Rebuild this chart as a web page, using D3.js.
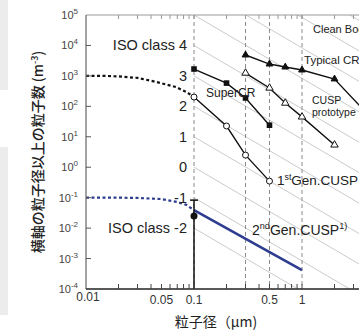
<!DOCTYPE html>
<html><head><meta charset="utf-8">
<script src="https://cdn.jsdelivr.net/npm/d3@7"></script>
<style>
body{margin:0;background:#fff;}
svg{display:block;font-family:"Liberation Sans",Arial,sans-serif;}
</style></head>
<body>
<svg id="c" width="359" height="330"></svg>
<script>
// ---- data ----
const yTickExps = [5,4,3,2,1,0,-1,-2,-3,-4];
const xTickLabels = ["0.01","0.05","0.1","0.5","1"];
const xTickValues = [0.01,0.05,0.1,0.5,1];
const refLines = [0.1,0.3,0.5,1];
const isoClasses = [-2,-1,0,1,2,3,4,5,6,7,8];
const isoLabelClasses = [4,3,2,1,0,-1,-2];

const gen1Sizes = [0.1,0.2,0.3,0.5];
const gen1Values = [202,22.6,2.5,0.35];
const superSizes = [0.1,0.2,0.3,0.5];
const superValues = [1680,580,188,24];
const protoSizes = [0.3,0.5,0.7,1,2];
const protoValues = [1240,400,128,45,5.4];
const typSizes = [0.3,0.5,0.7,1,2,5];
const typValues = [4850,2450,1950,1560,790,25];
const dotBlackSizes = [0.01,0.015,0.02,0.03,0.045,0.068,0.085,0.1];
const dotBlackValues = [1000,1000,960,860,630,430,295,202];
const dotBlueSizes = [0.01,0.02,0.03,0.05,0.07,0.085,0.1];
const dotBlueValues = [0.1,0.1,0.098,0.09,0.072,0.058,0.039];
const gen2Sizes = [0.1,1];
const gen2Values = [0.039,0.00042];
const gen2Point = {size:0.1, value:0.025, upper:0.083, lower:0.0001};

// ---- layout ----
const svg = d3.select("#c");
const x = d3.scaleLog().domain([0.01,10]).range([86,410]);
const y = d3.scaleLog().domain([1e-4,1e5]).range([289,15]);
const blue = "#2e3d8f";

// left scan strip
svg.append("rect").attr("x",0).attr("y",0).attr("width",8).attr("height",90).attr("fill","#ececec");
svg.append("rect").attr("x",0).attr("y",147).attr("width",8).attr("height",168).attr("fill","#ececec");

svg.append("defs").append("clipPath").attr("id","pc").append("rect")
  .attr("x",86).attr("y",15).attr("width",300).attr("height",274);
const plot = svg.append("g").attr("clip-path","url(#pc)");

// ISO class lines (gray)
const line = d3.line().x(d=>x(d[0])).y(d=>y(d[1]));
isoClasses.forEach(n=>{
  const pts = [0.1,0.2,0.5,1,2,5,10].map(d=>[d, Math.pow(10,n)*Math.pow(0.1/d,2.08)]);
  plot.append("path").attr("d",line(pts)).attr("fill","none").attr("stroke","#bcbcbc").attr("stroke-width",0.8);
});

// vertical dashed reference lines
refLines.forEach(v=>{
  plot.append("line").attr("x1",x(v)).attr("x2",x(v)).attr("y1",15).attr("y2",289)
    .attr("stroke","#8a8a8a").attr("stroke-width",1).attr("stroke-dasharray","4,3");
});

// axes
const ticksMinor = [];
[0.01,0.1,1].forEach(dec=>{for(let k=1;k<=9;k++) ticksMinor.push(dec*k);});
ticksMinor.push(10);
svg.append("line").attr("x1",86).attr("x2",359).attr("y1",15).attr("y2",15).attr("stroke","#999").attr("stroke-width",1.2);
svg.append("line").attr("x1",86).attr("x2",86).attr("y1",15).attr("y2",289).attr("stroke","#666").attr("stroke-width",1.2);
svg.append("line").attr("x1",86).attr("x2",359).attr("y1",289).attr("y2",289).attr("stroke","#222").attr("stroke-width",1.3);
ticksMinor.filter(v=>x(v)>87 && x(v)<359).forEach(v=>{
  svg.append("line").attr("x1",x(v)).attr("x2",x(v)).attr("y1",15).attr("y2",19).attr("stroke","#999");
  svg.append("line").attr("x1",x(v)).attr("x2",x(v)).attr("y1",289).attr("y2",284).attr("stroke","#444");
});
yTickExps.forEach(e=>{
  const yy = y(Math.pow(10,e));
  if(e>-4 && e<5) svg.append("line").attr("x1",86).attr("x2",91).attr("y1",yy).attr("y2",yy).attr("stroke","#555");
  const t = svg.append("text").attr("x",78).attr("y",yy+4).attr("text-anchor","end")
    .attr("font-size",11).attr("fill","#444");
  t.append("tspan").text("10");
  t.append("tspan").attr("font-size",8).attr("dy",-5).text(String(e));
});
xTickValues.forEach((v,i)=>{
  svg.append("text").attr("x",x(v)+(i==0?2:0)).attr("y",i==0?301:304).attr("text-anchor","middle")
    .attr("font-size",12).attr("fill","#333").text(xTickLabels[i]);
});

// dotted curves
plot.append("path").attr("d",line(dotBlackSizes.map((d,i)=>[d,dotBlackValues[i]])))
  .attr("fill","none").attr("stroke","#111").attr("stroke-width",2.2).attr("stroke-dasharray","3,2.5");
plot.append("path").attr("d",line(dotBlueSizes.map((d,i)=>[d,dotBlueValues[i]])))
  .attr("fill","none").attr("stroke",blue).attr("stroke-width",2.2).attr("stroke-dasharray","3,2.5");

// 2nd gen line
plot.append("path").attr("d",line(gen2Sizes.map((d,i)=>[d,gen2Values[i]])))
  .attr("fill","none").attr("stroke",blue).attr("stroke-width",2.6);
// error bar + point
plot.append("line").attr("x1",x(gen2Point.size)).attr("x2",x(gen2Point.size))
  .attr("y1",y(gen2Point.upper)).attr("y2",y(gen2Point.lower)).attr("stroke","#111").attr("stroke-width",1.5);
plot.append("line").attr("x1",x(gen2Point.size)-4).attr("x2",x(gen2Point.size)+4)
  .attr("y1",y(gen2Point.upper)).attr("y2",y(gen2Point.upper)).attr("stroke","#111").attr("stroke-width",1.5);
plot.append("circle").attr("cx",x(gen2Point.size)).attr("cy",y(gen2Point.value)).attr("r",3.5).attr("fill","#111");

// series
function series(sizes, values, marker){
  const pts = sizes.map((d,i)=>[d,values[i]]);
  plot.append("path").attr("d",line(pts)).attr("fill","none").attr("stroke","#111").attr("stroke-width",1.4);
  pts.forEach(p=>{
    const cx=x(p[0]), cy=y(p[1]);
    if(marker==="circle") plot.append("circle").attr("cx",cx).attr("cy",cy).attr("r",3).attr("fill","#fff").attr("stroke","#111").attr("stroke-width",1);
    else if(marker==="square") plot.append("rect").attr("x",cx-2.8).attr("y",cy-2.8).attr("width",5.6).attr("height",5.6).attr("fill","#111");
    else {
      const filled = marker==="tri";
      plot.append("path").attr("d",d3.symbol().type(d3.symbolTriangle).size(filled?20:24)())
        .attr("transform",`translate(${cx},${cy})`).attr("fill",filled?"#111":"#fff").attr("stroke","#111").attr("stroke-width",1);
    }
  });
}
series(gen1Sizes,gen1Values,"circle");
series(superSizes,superValues,"square");
series(protoSizes,protoValues,"otri");
series(typSizes,typValues,"tri");

// ISO class labels
isoLabelClasses.forEach(n=>{
  const label = (n===4||n===-2) ? "ISO class "+String(n) : String(n);
  svg.append("text").attr("x",187).attr("y",y(Math.pow(10,n))+5).attr("text-anchor","end")
    .attr("font-size",14.5).attr("fill","#222").text(label);
});

// series labels
function lab(xx,yy,size,parts){
  const t = svg.append("text").attr("x",xx).attr("y",yy).attr("font-size",size).attr("fill","#222");
  parts.forEach(p=>{
    const s=t.append("tspan").text(p[0]);
    if(p[1]==="sup") s.attr("font-size",size*0.65).attr("dy",-size*0.4);
    if(p[1]==="back") s.attr("dy",size*0.4);
  });
  return t;
}
lab(313,33,11,[["Clean Booth"]]);
lab(304,64,11.5,[["Typical CR"]]);
lab(206,97,12,[["SuperCR"]]);
lab(312,104,10.5,[["CUSP"]]);
lab(312,115.5,10.5,[["prototype"]]);
lab(277,185,13.5,[["1"],["st","sup"],["Gen.CUSP","back"]]);
lab(252,235,14,[["2"],["nd","sup"],["Gen.CUSP","back"],["1)","sup"]]);

// axis titles
svg.append("text").attr("x",216).attr("y",327).attr("text-anchor","middle")
  .attr("font-family","'Noto Sans CJK JP',sans-serif").attr("font-size",14).attr("fill","#222")
  .text("粒子径（μm)");
const yl = svg.append("text").attr("transform","translate(43,152) rotate(-90)").attr("text-anchor","middle")
  .attr("font-family","'Noto Sans CJK JP',sans-serif").attr("font-size",14).attr("font-weight",500).attr("fill","#222");
yl.append("tspan").text("横軸の粒子径以上の粒子数 (m");
yl.append("tspan").attr("font-size",9).attr("dy",-5).text("-3");
yl.append("tspan").attr("dy",5).text(")");
</script>
</body></html>
